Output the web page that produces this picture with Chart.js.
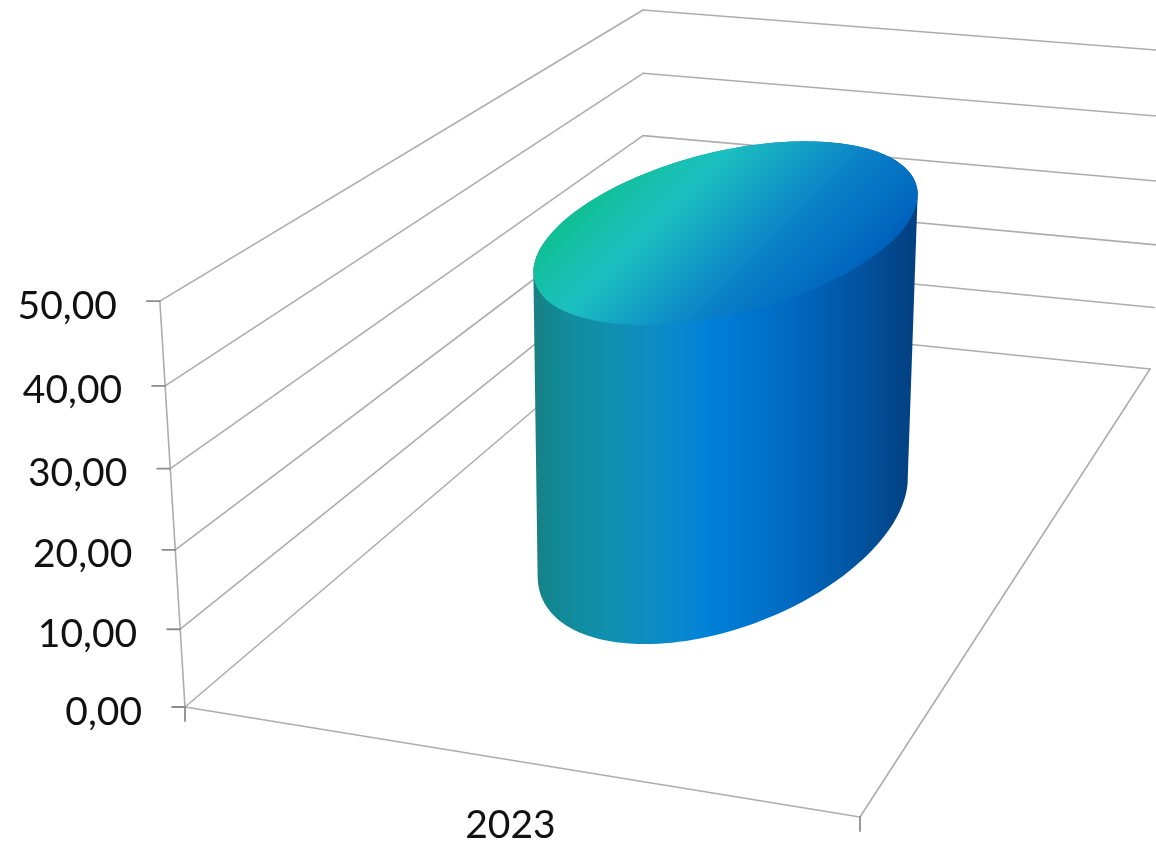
<!DOCTYPE html>
<html>
<head>
<meta charset="utf-8">
<title>2023</title>
<script src="https://cdn.jsdelivr.net/npm/chart.js@4/dist/chart.umd.min.js"></script>
<style>
  html, body { margin: 0; padding: 0; background: #fff; }
  canvas { display: block; }
</style>
</head>
<body>
<canvas id="chart" width="1156" height="847"></canvas>
<script>
const categories = ['2023'];
const values = [41.0];
const yTickValues = [0, 10, 20, 30, 40, 50];
const yTickLabels = ['0,00', '10,00', '20,00', '30,00', '40,00', '50,00'];

const LINE = '#adadad';
const TICK = '#8c8c8c';
const TEXT = '#111';
const FONT = '39px Lato, Carlito, sans-serif';

// Floor corners of the 3D box, as seen on the page
const FLOOR = { a: [185, 707], b: [860, 817], c: [1150, 369], d: [643, 317] };
const VERTICAL_VP = [643, 8107]; // uprights converge far below the page
const RISE = -0.052;
const DEPTH_RATIO = 1.07; // the round base is a bit longer in depth than across

// ─── Projection: (u along front, v depth, h height) → page ────────────────────
function buildProjection() {
  const { a, b, c, d } = FLOOR;
  const dx1 = b[0] - c[0], dx2 = d[0] - c[0], sx = a[0] - b[0] + c[0] - d[0];
  const dy1 = b[1] - c[1], dy2 = d[1] - c[1], sy = a[1] - b[1] + c[1] - d[1];
  const det = dx1 * dy2 - dx2 * dy1;
  const g = (sx * dy2 - dx2 * sy) / det;
  const k = (dx1 * sy - sx * dy1) / det;
  return (u, v, h) => {
    const w = g * u + k * v + 1 + h * RISE;
    const x = (b[0] - a[0] + g * b[0]) * u + (d[0] - a[0] + k * d[0]) * v + a[0] + h * RISE * VERTICAL_VP[0];
    const y = (b[1] - a[1] + g * b[1]) * u + (d[1] - a[1] + k * d[1]) * v + a[1] + h * RISE * VERTICAL_VP[1];
    // small correction: the back wall sags towards its far right end
    return [x / w, y / w + h * v * (8 * u - 2)];
  };
}
const project = buildProjection();

function segment(ctx, p, q) {
  ctx.beginPath();
  ctx.moveTo(p[0], p[1]);
  ctx.lineTo(q[0], q[1]);
  ctx.stroke();
}

function heightOf(yScale, value) {
  return (yScale.bottom - yScale.getPixelForValue(value)) / (yScale.bottom - yScale.top);
}

// ─── Box: walls, floor, ticks and axis text ───────────────────────────────────
const box3d = {
  id: 'box3d',
  beforeDatasetsDraw(chart) {
    const { ctx, scales: { y } } = chart;
    ctx.save();
    ctx.lineCap = 'round';
    ctx.strokeStyle = LINE;
    ctx.lineWidth = 1.6;

    yTickValues.forEach(val => {
      const h = heightOf(y, val);
      segment(ctx, project(0, 0, h), project(0, 1, h));
      segment(ctx, project(0, 1, h), project(1, 1, h));
    });
    segment(ctx, project(0, 0, 0), project(0, 0, 1));
    segment(ctx, project(0, 0, 0), project(1, 0, 0));
    segment(ctx, project(1, 0, 0), project(1, 1, 0));

    ctx.strokeStyle = TICK;
    ctx.lineWidth = 1.8;
    const bottomLeft = project(0, 0, 0);
    const bottomRight = project(1, 0, 0);
    segment(ctx, bottomLeft, [bottomLeft[0], bottomLeft[1] + 14]);
    segment(ctx, bottomRight, [bottomRight[0], bottomRight[1] + 14]);

    ctx.fillStyle = TEXT;
    ctx.font = FONT;
    ctx.textBaseline = 'middle';
    ctx.textAlign = 'right';
    yTickValues.forEach((val, i) => {
      const p = project(0, 0, heightOf(y, val));
      segment(ctx, [p[0] - 13, p[1]], p);
      ctx.fillText(yTickLabels[i], p[0] - 43, p[1] + 5);
    });
    ctx.textAlign = 'center';
    const mid = project(0.5, 0, 0);
    ctx.fillText(categories[0], mid[0] + 3, mid[1] + 66);
    ctx.restore();
  }
};

// ─── Cylinder: takes height and width from the bar element ────────────────────
function ring(u0, v0, r, h) {
  const pts = [];
  for (let i = 0; i < 180; i++) {
    const t = (i / 180) * Math.PI * 2;
    pts.push(project(u0 + r * Math.cos(t), v0 + r * DEPTH_RATIO * Math.sin(t), h));
  }
  return pts;
}

function extremes(pts) {
  let l = 0, r = 0;
  pts.forEach((p, i) => {
    if (p[0] < pts[l][0]) l = i;
    if (p[0] > pts[r][0]) r = i;
  });
  return { l, r };
}

const cylinder3d = {
  id: 'cylinder3d',
  afterDatasetsDraw(chart) {
    const { ctx, scales: { x, y } } = chart;
    chart.getDatasetMeta(0).data.forEach(bar => {
      const u0 = (bar.x - x.left) / (x.right - x.left);
      const r = bar.width / 2 / (x.right - x.left);
      const hTop = (y.bottom - bar.y) / (y.bottom - y.top);
      const low = ring(u0, 0.5, r, 0);
      const top = ring(u0, 0.5, r, hTop);
      const eLow = extremes(low);
      const eTop = extremes(top);

      // side wall: down the left edge, along the front of the base, up the right edge
      const side = ctx.createLinearGradient(top[eTop.l][0], 0, top[eTop.r][0], 0);
      side.addColorStop(0, '#1a7f82');
      side.addColorStop(0.05, '#128892');
      side.addColorStop(0.2, '#1090b0');
      side.addColorStop(0.36, '#0a8acc');
      side.addColorStop(0.46, '#0080d8');
      side.addColorStop(0.68, '#0068c0');
      side.addColorStop(0.85, '#02529f');
      side.addColorStop(1, '#033f7e');
      ctx.save();
      ctx.fillStyle = side;
      ctx.beginPath();
      ctx.moveTo(top[eTop.l][0], top[eTop.l][1]);
      for (let i = eLow.l; ; i = (i + 1) % 180) {
        ctx.lineTo(low[i][0], low[i][1]);
        if (i === eLow.r) break;
      }
      for (let i = eTop.r; ; i = (i + 1) % 180) {
        ctx.lineTo(top[i][0], top[i][1]);
        if (i === eTop.l) break;
      }
      ctx.closePath();
      ctx.fill();

      // lid
      const lid = ctx.createLinearGradient(627, 135, 823, 331);
      lid.addColorStop(0.07, '#10bf96');
      lid.addColorStop(0.29, '#1cc0c0');
      lid.addColorStop(0.66, '#0a80c8');
      lid.addColorStop(0.91, '#0066be');
      lid.addColorStop(1, '#0058b0');
      ctx.fillStyle = lid;
      ctx.beginPath();
      top.forEach((p, i) => (i ? ctx.lineTo(p[0], p[1]) : ctx.moveTo(p[0], p[1])));
      ctx.closePath();
      ctx.fill();
      ctx.restore();
    });
  }
};

new Chart(document.getElementById('chart'), {
  type: 'bar',
  data: {
    labels: categories,
    datasets: [{
      data: values,
      backgroundColor: 'rgba(0,0,0,0)',
      barPercentage: 0.525,
      categoryPercentage: 1
    }]
  },
  options: {
    responsive: false,
    animation: false,
    layout: { padding: 0 },
    plugins: { legend: { display: false }, tooltip: { enabled: false } },
    scales: {
      x: { display: false },
      y: { display: false, min: 0, max: 50, ticks: { stepSize: 10 } }
    }
  },
  plugins: [box3d, cylinder3d]
});
</script>
</body>
</html>
